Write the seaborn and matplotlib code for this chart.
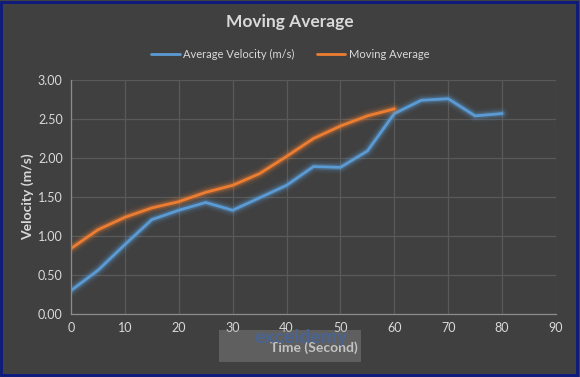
import pandas as pd
import seaborn as sns
import matplotlib.pyplot as plt
import matplotlib.patheffects as pe
from matplotlib.patches import Rectangle

# data
time_s = [0, 5, 10, 15, 20, 25, 30, 35, 40, 45, 50, 55, 60, 65, 70, 75, 80]
avg_velocity = [0.30, 0.56, 0.89, 1.21, 1.33, 1.43, 1.33, 1.49, 1.65, 1.89, 1.88, 2.09, 2.57, 2.74, 2.76, 2.54, 2.57]
ma_time = [0, 5, 10, 15, 20, 25, 30, 35, 40, 45, 50, 55, 60]
moving_avg = [0.84, 1.08, 1.24, 1.36, 1.44, 1.56, 1.65, 1.80, 2.02, 2.25, 2.41, 2.54, 2.63]

series_names = ['Average Velocity (m/s)', 'Moving Average']
x_ticks = list(range(0, 91, 10))
y_ticks = [0, 0.5, 1.0, 1.5, 2.0, 2.5, 3.0]

df = pd.concat([
    pd.DataFrame({'Time': time_s, 'Velocity': avg_velocity, 'Series': series_names[0]}),
    pd.DataFrame({'Time': ma_time, 'Velocity': moving_avg, 'Series': series_names[1]}),
])

bg = '#404040'
txt = '#d9d9d9'
grid = '#595959'
colors = {series_names[0]: '#5b9bd5', series_names[1]: '#ed7d31'}

sns.set_style('dark')
plt.rcParams['font.family'] = ['Lato', 'DejaVu Sans']

fig = plt.figure(figsize=(5.8, 3.77), dpi=100, facecolor=bg)
ax = fig.add_axes([71 / 580, 1 - 314 / 377, 485 / 580, 234 / 377])
ax.set_facecolor(bg)

sns.lineplot(data=df, x='Time', y='Velocity', hue='Series', palette=colors,
             linewidth=2.0, ax=ax, legend=False)

# soft glow around the lines
for line in ax.get_lines():
    c = line.get_color()
    line.set_path_effects([
        pe.Stroke(linewidth=9, foreground=c, alpha=0.08),
        pe.Stroke(linewidth=6, foreground=c, alpha=0.15),
        pe.Stroke(linewidth=4, foreground=c, alpha=0.25),
        pe.Normal(),
    ])

ax.set_xlim(0, 90)
ax.set_ylim(0, 3)
ax.set_xticks(x_ticks)
ax.set_yticks(y_ticks)
ax.set_yticklabels([f'{v:.2f}' for v in y_ticks])
ax.grid(True, color=grid, linewidth=0.9)
ax.tick_params(colors=txt, labelsize=9, length=0, pad=6)
for s in ['top', 'right']:
    ax.spines[s].set_visible(False)
for s in ['left', 'bottom']:
    ax.spines[s].set_visible(True)
    ax.spines[s].set_color('#8c8c8c')
    ax.spines[s].set_linewidth(0.9)

ax.set_xlabel('Time (Second)', color=txt, fontsize=10, fontweight='bold', labelpad=5)
ax.set_ylabel('Velocity (m/s)', color=txt, fontsize=10, fontweight='bold', labelpad=3)

fig.text(0.5, 1 - 22 / 377, 'Moving Average', ha='center', va='center',
         color=txt, fontsize=12.5, fontweight='bold')

handles = [plt.Line2D([], [], color=colors[n], linewidth=2) for n in series_names]
fig.legend(handles, series_names, loc='center', bbox_to_anchor=(0.5, 1 - 54 / 377),
           ncol=2, frameon=False, fontsize=8, labelcolor=txt,
           handlelength=2.6, handletextpad=0.3, columnspacing=2.0)

# watermark
fig.patches.append(Rectangle((219 / 580, 1 - 362 / 377), 142 / 580, 32 / 377,
                             transform=fig.transFigure, facecolor='#9a9a9a',
                             alpha=0.35, edgecolor='none', zorder=0))
fig.text(254 / 580, 1 - 337 / 377, 'exceldemy', color='#46659c', fontsize=14,
         fontweight='bold', ha='left', va='center', alpha=0.85, zorder=0)

# outer frame
fig.patches.append(Rectangle((0.002, 0.004), 0.993, 0.99, transform=fig.transFigure,
                             fill=False, edgecolor='#0c1a80', linewidth=2))

fig.savefig('out.png', dpi=100, facecolor=bg)
